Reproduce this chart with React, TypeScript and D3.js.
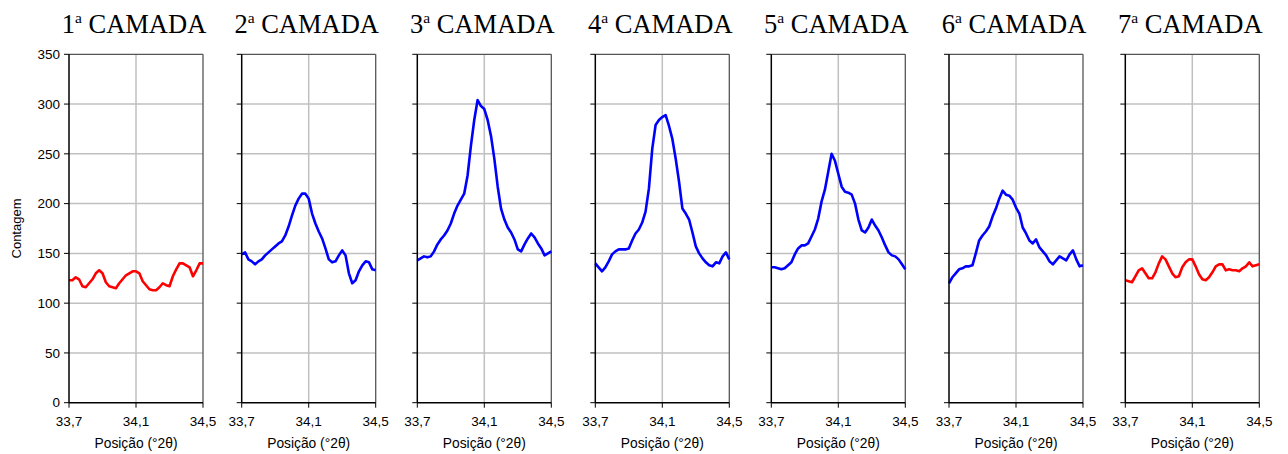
import React from 'react';
import * as d3 from 'd3';

// posições 2θ: 33,70 até 34,50 a cada 0,02
const positions = [
  33.70, 33.72, 33.74, 33.76, 33.78, 33.80, 33.82, 33.84, 33.86, 33.88,
  33.90, 33.92, 33.94, 33.96, 33.98, 34.00, 34.02, 34.04, 34.06, 34.08,
  34.10, 34.12, 34.14, 34.16, 34.18, 34.20, 34.22, 34.24, 34.26, 34.28,
  34.30, 34.32, 34.34, 34.36, 34.38, 34.40, 34.42, 34.44, 34.46, 34.48, 34.50,
];

const camada1 = [123, 123, 126, 124, 117, 116, 120, 124, 130, 133, 130, 121, 117, 116, 115, 120, 124, 128, 130, 132, 132, 130, 122, 118, 114, 113, 113, 116, 120, 118, 117, 127, 134, 140, 140, 138, 136, 127, 133, 140, 140];
const camada2 = [149, 151, 144, 142, 139, 142, 144, 148, 151, 154, 157, 160, 162, 168, 177, 188, 198, 205, 210, 210, 205, 190, 180, 172, 165, 155, 144, 141, 142, 148, 153, 148, 130, 120, 123, 132, 138, 142, 141, 134, 133];
const camada3 = [143, 145, 147, 146, 147, 152, 159, 164, 168, 173, 180, 190, 198, 204, 210, 228, 258, 284, 304, 298, 295, 284, 268, 245, 217, 195, 184, 176, 171, 164, 154, 152, 159, 165, 170, 166, 160, 155, 148, 150, 152];
const camada4 = [140, 136, 132, 136, 142, 149, 152, 154, 154, 154, 155, 163, 170, 174, 181, 192, 215, 255, 279, 284, 287, 289, 278, 265, 245, 222, 195, 190, 184, 171, 157, 150, 145, 141, 138, 137, 141, 140, 147, 151, 144];
const camada5 = [136, 136, 135, 134, 135, 138, 141, 149, 155, 158, 158, 160, 167, 174, 185, 202, 214, 232, 250, 243, 230, 217, 212, 211, 209, 200, 184, 173, 171, 176, 184, 178, 173, 166, 158, 151, 148, 147, 144, 139, 134];
const camada6 = [120, 126, 130, 134, 135, 137, 137, 138, 150, 163, 168, 172, 177, 187, 195, 205, 213, 209, 208, 204, 196, 190, 176, 170, 163, 160, 164, 156, 152, 148, 142, 139, 143, 147, 145, 143, 149, 153, 144, 137, 138];
const camada7 = [123, 122, 121, 127, 133, 135, 130, 125, 125, 131, 140, 147, 144, 137, 130, 126, 127, 136, 141, 144, 144, 137, 129, 124, 123, 126, 131, 137, 139, 139, 133, 134, 133, 133, 132, 135, 137, 141, 137, 138, 139];

const camadas = [camada1, camada2, camada3, camada4, camada5, camada6, camada7];
const titulos = ['1', '2', '3', '4', '5', '6', '7'];
const cores = ['#ff0000', '#0000ff', '#0000ff', '#0000ff', '#0000ff', '#0000ff', '#ff0000'];

const xTicks = [33.7, 34.1, 34.5];
const yTicks = [0, 50, 100, 150, 200, 250, 300, 350];

const W = 1288;
const H = 454;
const plotLefts = [69, 241.7, 417.3, 595.3, 771.3, 949, 1125.3];
const plotW = 134;
const top = 54.3;
const bottom = 402.7;

const fmt = (v: number) => v.toFixed(1).replace('.', ',');

export default function App() {
  const y = d3.scaleLinear().domain([0, 350]).range([bottom, top]);
  const sans = 'Arial, "Liberation Sans", sans-serif';
  const serif = '"Times New Roman", "Liberation Serif", serif';

  return (
    <svg width={W} height={H} style={{ position: 'absolute', left: 0, top: 0, background: '#fff' }}>
      <rect width={W} height={H} fill="#fff" />
      <text
        transform={`translate(21,${(top + bottom) / 2}) rotate(-90)`}
        textAnchor="middle"
        fontFamily={sans}
        fontSize={13}
        fill="#000"
      >
        Contagem
      </text>
      {camadas.map((dados, i) => {
        const x0 = plotLefts[i];
        const x = d3.scaleLinear().domain([33.7, 34.5]).range([x0, x0 + plotW]);
        const line = d3
          .line<number>()
          .x((_, j) => x(positions[j]))
          .y((d) => y(d))
          .curve(d3.curveLinear);
        const cx = x0 + plotW / 2;
        return (
          <g key={i}>
            {/* grade */}
            {yTicks.slice(1, -1).map((t) => (
              <line key={'gy' + t} x1={x0} x2={x0 + plotW} y1={y(t)} y2={y(t)} stroke="#c0c0c0" strokeWidth={1.5} />
            ))}
            <line x1={x(34.1)} x2={x(34.1)} y1={top} y2={bottom} stroke="#c0c0c0" strokeWidth={1.5} />
            {/* moldura */}
            <line x1={x0} x2={x0 + plotW} y1={top} y2={top} stroke="#555" strokeWidth={1.3} />
            <line x1={x0 + plotW} x2={x0 + plotW} y1={top} y2={bottom} stroke="#555" strokeWidth={1.3} />
            <path d={line(dados) || ''} fill="none" stroke={cores[i]} strokeWidth={2.6} strokeLinejoin="round" />
            <line x1={x0} x2={x0} y1={top} y2={bottom} stroke="#000" strokeWidth={1.5} />
            <line x1={x0} x2={x0 + plotW} y1={bottom} y2={bottom} stroke="#000" strokeWidth={1.5} />
            {/* eixo y */}
            {yTicks.map((t) => (
              <g key={'ty' + t}>
                <line x1={x0 - 5} x2={x0} y1={y(t)} y2={y(t)} stroke="#000" strokeWidth={1} />
                {i === 0 && (
                  <text x={x0 - 9} y={y(t)} dy="0.35em" textAnchor="end" fontFamily={sans} fontSize={13.5} fill="#000">
                    {t}
                  </text>
                )}
              </g>
            ))}
            {/* eixo x */}
            {xTicks.map((t) => (
              <g key={'tx' + t}>
                <line x1={x(t)} x2={x(t)} y1={bottom} y2={bottom + 5} stroke="#000" strokeWidth={1} />
                <text x={x(t)} y={426} textAnchor="middle" fontFamily={sans} fontSize={13.5} fill="#000">
                  {fmt(t)}
                </text>
              </g>
            ))}
            <text x={cx} y={447.5} textAnchor="middle" fontFamily={sans} fontSize={13.8} fill="#000">
              Posição (°2θ)
            </text>
            <text x={cx - 2} y={33} textAnchor="middle" fontFamily={serif} fontSize={26.5} fill="#000">
              {titulos[i]}
              <tspan fontSize={15.5} dy={-10}>a</tspan>
              <tspan dy={10}> CAMADA</tspan>
            </text>
          </g>
        );
      })}
    </svg>
  );
}
